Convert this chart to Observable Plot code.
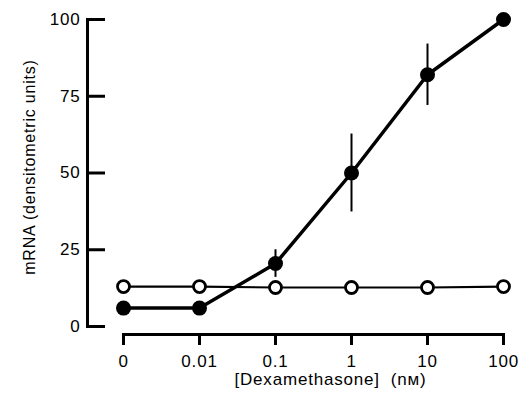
<!DOCTYPE html>
<html><head><meta charset="utf-8">
<script src="https://cdn.jsdelivr.net/npm/d3@7"></script>
<script src="https://cdn.jsdelivr.net/npm/@observablehq/plot@0.6"></script>
<style>
body{margin:0;background:#fff;font-family:"Liberation Sans",Arial,sans-serif;}
svg text{letter-spacing:0.8px;}
</style>
</head><body><div id="chart"></div>
<script>
const doses = ["0", "0.01", "0.1", "1", "10", "100"];
const withDex = [6, 6, 20.5, 50, 82, 100];
const withDexErr = [0, 0, 4.5, 12.7, 10, 0];
const control = [13, 13, 12.7, 12.7, 12.7, 13];
const yTicks = [0, 25, 50, 75, 100];

const filled = doses.map((d, i) => ({dose: d, v: withDex[i], e: withDexErr[i]}));
const open = doses.map((d, i) => ({dose: d, v: control[i]}));
const bars = filled.filter(d => d.e > 0);

const plot = Plot.plot({
  width: 524, height: 405,
  marginLeft: 122, marginRight: 20, marginTop: 19, marginBottom: 79,
  style: {fontFamily: "'Liberation Sans', Arial, sans-serif", color: "#000", background: "#fff"},
  x: {type: "point", domain: doses, padding: 0, axis: null},
  y: {domain: [0, 100], axis: null},
  marks: [
    Plot.ruleX([doses[0]], {dx: -36, stroke: "#000", strokeWidth: 3}),
    Plot.axisY({ticks: yTicks, anchor: "left", dx: -36, tickSize: -19, tickPadding: 25, strokeWidth: 3, fontSize: 17, label: null}),
    Plot.text(["mRNA (densitometric units)"], {frameAnchor: "left", textAnchor: "middle", dx: -93, dy: -6, rotate: -90, fontSize: 16}),
    Plot.ruleY([0], {dy: 8, stroke: "#000", strokeWidth: 3}),
    Plot.axisX({anchor: "bottom", dy: 7, tickSize: 12, tickPadding: 9, strokeWidth: 3, fontSize: 17, label: null}),
    Plot.text(["[Dexamethasone]  (nᴍ)"], {frameAnchor: "bottom", textAnchor: "middle", dx: 17, dy: 58, fontSize: 17}),
    Plot.line(open, {x: "dose", y: "v", stroke: "#000", strokeWidth: 2.2}),
    Plot.dot(open, {x: "dose", y: "v", r: 6, fill: "#fff", stroke: "#000", strokeWidth: 2.8}),
    Plot.ruleX(bars, {x: "dose", y1: d => d.v - d.e, y2: d => d.v + d.e, stroke: "#000", strokeWidth: 2}),
    Plot.line(filled, {x: "dose", y: "v", stroke: "#000", strokeWidth: 3.5}),
    Plot.dot(filled, {x: "dose", y: "v", r: 7.5, fill: "#000", stroke: "none"})
  ]
});
document.getElementById("chart").appendChild(plot);
</script></body></html>
